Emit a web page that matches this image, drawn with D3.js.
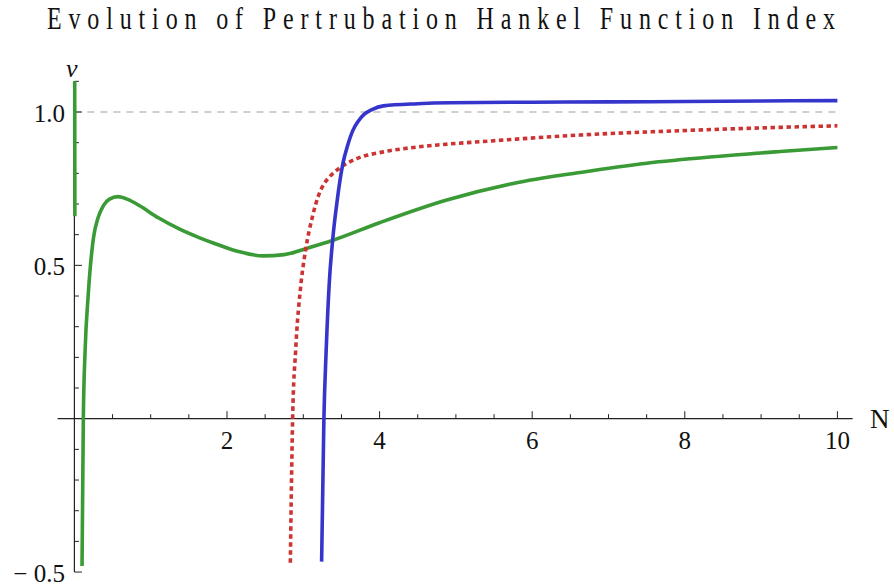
<!DOCTYPE html>
<html>
<head>
<meta charset="utf-8">
<script src="https://cdn.jsdelivr.net/npm/d3@7"></script>
<style>
  body { margin: 0; background: #fff; }
  svg text { font-family: "Liberation Serif", "Times New Roman", "DejaVu Serif", serif; fill: #111; }
</style>
</head>
<body>
<div id="container"></div>
<script>
// values
const greenN = [0.100, 0.117, 0.14, 0.18, 0.25, 0.31, 0.38, 0.46, 0.57, 0.70, 0.85, 1.10, 1.38, 1.65, 1.82, 2.15, 2.47, 2.75, 3.05, 3.39, 4.0, 4.88, 5.75, 6.63, 7.50, 8.37, 9.25, 10.0];
const greenV = [-0.48, 0.0, 0.22, 0.40, 0.59, 0.655, 0.695, 0.716, 0.724, 0.715, 0.695, 0.655, 0.618, 0.589, 0.573, 0.545, 0.531, 0.535, 0.556, 0.582, 0.639, 0.713, 0.767, 0.803, 0.833, 0.854, 0.871, 0.884];
// branch of the green curve running up the axis
const greenTopN = [0.004, 0.006];
const greenTopV = [1.10, 0.66];

const redN = [2.83, 2.86, 2.90, 2.97, 3.03, 3.12, 3.20, 3.27, 3.35, 3.48, 3.70, 4.05, 4.50, 4.92, 5.31, 6.63, 7.94, 9.25, 10.0];
const redV = [-0.47, 0.0, 0.224, 0.441, 0.55, 0.659, 0.728, 0.765, 0.790, 0.818, 0.848, 0.870, 0.886, 0.896, 0.903, 0.925, 0.939, 0.950, 0.955];

const blueN = [3.24, 3.27, 3.30, 3.34, 3.385, 3.445, 3.52, 3.58, 3.65, 3.72, 3.80, 3.90, 4.05, 4.50, 4.92, 6.0, 7.0, 8.0, 9.0, 10.0];
const blueV = [-0.466, 0.0, 0.224, 0.441, 0.583, 0.713, 0.833, 0.89, 0.94, 0.97, 0.993, 1.008, 1.020, 1.027, 1.030, 1.032, 1.033, 1.034, 1.036, 1.037];

const xMajor = [2, 4, 6, 8, 10];
const yMajor = [1.0, 0.5, -0.5];
const yLabels = ["1.0", "0.5", "\u2212 0.5"];

const width = 894, height = 588;

const svg = d3.select("#container").append("svg")
    .attr("width", width)
    .attr("height", height);

const x = d3.scaleLinear().domain([0, 10]).range([74.4, 837.4]);
const y = d3.scaleLinear().domain([0, 1]).range([418.7, 112]);

// title (the original lettering is tall and narrow)
svg.append("text")
    .attr("transform", "translate(47,29) scale(1,1.3)")
    .attr("textLength", 788)
    .attr("lengthAdjust", "spacing")
    .style("font-size", "24px")
    .text("Evolution of Pertrubation Hankel Function Index");

// reference line at nu = 1
svg.append("line")
    .attr("x1", x(0)).attr("x2", x(10))
    .attr("y1", y(1)).attr("y2", y(1))
    .attr("stroke", "#a0a0a0")
    .attr("stroke-width", 1.2)
    .attr("stroke-dasharray", "7,6");

// x axis
const xAxisG = svg.append("g").attr("transform", `translate(0,${y(0)})`);
xAxisG.append("line")
    .attr("x1", x(-0.22)).attr("x2", x(10.2))
    .attr("stroke", "#222").attr("stroke-width", 1.2);
const xMinor = d3.range(0.5, 10.01, 0.5).filter(v => !xMajor.includes(v));
xAxisG.selectAll(".xminor").data(xMinor).enter().append("line")
    .attr("x1", d => x(d)).attr("x2", d => x(d))
    .attr("y1", 0).attr("y2", -4.5)
    .attr("stroke", "#222").attr("stroke-width", 1);
xAxisG.selectAll(".xmajor").data(xMajor).enter().append("line")
    .attr("x1", d => x(d)).attr("x2", d => x(d))
    .attr("y1", 0).attr("y2", -7.5)
    .attr("stroke", "#222").attr("stroke-width", 1);
xAxisG.selectAll(".xlabel").data(xMajor).enter().append("text")
    .attr("x", d => x(d))
    .attr("y", 30)
    .attr("text-anchor", "middle")
    .style("font-size", "25px")
    .text(d => d);

svg.append("text")
    .attr("x", 870)
    .attr("y", 428)
    .style("font-size", "27px")
    .text("N");

// y axis
const yAxisG = svg.append("g").attr("transform", `translate(${x(0)},0)`);
yAxisG.append("line")
    .attr("y1", y(-0.5)).attr("y2", y(1.1))
    .attr("stroke", "#222").attr("stroke-width", 1.2);
const yMinor = d3.range(-5, 12).map(v => v / 10).filter(v => !yMajor.includes(v) && v !== 0);
yAxisG.selectAll(".yminor").data(yMinor).enter().append("line")
    .attr("y1", d => y(d)).attr("y2", d => y(d))
    .attr("x1", 0).attr("x2", 4.5)
    .attr("stroke", "#222").attr("stroke-width", 1);
yAxisG.selectAll(".ymajor").data(yMajor).enter().append("line")
    .attr("y1", d => y(d)).attr("y2", d => y(d))
    .attr("x1", 0).attr("x2", 7.5)
    .attr("stroke", "#222").attr("stroke-width", 1);
yAxisG.selectAll(".ylabel").data(yMajor).enter().append("text")
    .attr("x", -9.5)
    .attr("y", d => y(d) + 10)
    .attr("text-anchor", "end")
    .style("font-size", "25px")
    .text((d, i) => yLabels[i]);

svg.append("text")
    .attr("x", 66)
    .attr("y", 77)
    .style("font-size", "26px")
    .style("font-style", "italic")
    .text("\u03BD");

// curves
const line = d3.line()
    .x(d => x(d[0]))
    .y(d => y(d[1]))
    .curve(d3.curveMonotoneX);

const zip = (a, b) => a.map((v, i) => [v, b[i]]);

const curves = [
    { pts: zip(greenTopN, greenTopV), color: "#3a9a35", dash: null },
    { pts: zip(greenN, greenV), color: "#3a9a35", dash: null },
    { pts: zip(redN, redV), color: "#cc3333", dash: "4.5,3.5" },
    { pts: zip(blueN, blueV), color: "#3535cc", dash: null }
];

svg.selectAll(".curve").data(curves).enter().append("path")
    .attr("class", "curve")
    .attr("d", d => line(d.pts))
    .attr("fill", "none")
    .attr("stroke", d => d.color)
    .attr("stroke-width", 3.6)
    .attr("stroke-dasharray", d => d.dash);
</script>
</body>
</html>
